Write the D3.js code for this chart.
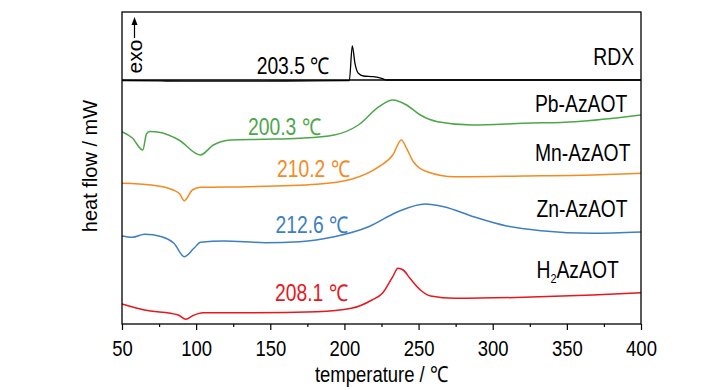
<!DOCTYPE html>
<html>
<head>
<meta charset="utf-8">
<script src="https://cdn.jsdelivr.net/npm/d3@7/dist/d3.min.js"></script>
<style>
  html, body { margin: 0; padding: 0; background: #fff; }
  svg { display: block; }
  text { font-family: 'Liberation Sans', Arial, sans-serif; }
</style>
</head>
<body>
<svg id="chart" width="728" height="390"></svg>
<script>
// ---------- data (temperature in °C, heat flow in arbitrary units, curves stacked) ----------
const majorTicks = [50, 100, 150, 200, 250, 300, 350, 400];
const minorTicks = [75, 125, 175, 225, 275, 325, 375];

const rdxT  = [50, 80, 120, 160, 200, 203.3, 205.3, 207.1, 209.4, 212.8, 219.5, 225.1, 228.5, 260, 320, 400];
const rdxHF = [24.35, 24.3, 24.28, 24.3, 24.33, 24.35, 27.8, 26.07, 25.07, 24.8, 24.73, 24.57, 24.4, 24.4, 24.4, 24.4];

const pbT  = [50, 57, 64, 66.5, 68.5, 76.8, 88.4, 102.8, 111.6, 123.3, 146.6, 169.8, 193.1, 209.4, 223.3, 232.6, 241.9, 251.2, 262.8, 286.1, 321, 355.8, 400];
const pbHF = [19.23, 18.6, 17.4, 19.0, 19.25, 19.13, 18.4, 16.9, 17.9, 18.4, 18.47, 18.57, 18.9, 19.9, 21.73, 22.4, 21.9, 20.9, 20.23, 19.9, 20.07, 20.23, 20.9];

const mnT  = [50, 69.8, 84.5, 89, 92, 97.5, 103, 134.9, 181.4, 204.7, 223.3, 232.6, 238.4, 241.9, 246.5, 255.8, 274.4, 321, 367.5, 400];
const mnHF = [14.07, 13.9, 13.4, 13.0, 12.33, 13.4, 13.67, 13.73, 13.97, 14.47, 15.73, 16.9, 18.4, 17.57, 16.23, 15.23, 14.73, 14.8, 14.9, 15.07];

const znT  = [50, 57, 65.2, 76.8, 85, 92, 98.5, 103, 118.7, 146.6, 169.8, 193.1, 216.3, 236, 254.5, 267, 287, 309.4, 332.6, 367.5, 400];
const znHF = [8.8, 8.67, 8.97, 8.73, 8.07, 6.73, 7.57, 8.17, 8.3, 8.13, 8.23, 8.73, 9.73, 11.23, 12.0, 11.73, 10.73, 9.8, 9.33, 9.07, 9.2];

const h2T  = [50, 65.2, 88, 93, 98, 104.5, 134.9, 181.4, 204.7, 218.6, 225.6, 232.6, 236.1, 239.6, 244.2, 251.2, 258.2, 274.4, 321, 367.5, 400];
const h2HF = [2.0, 1.4, 0.9, 0.47, 0.85, 1.13, 1.13, 1.23, 1.57, 2.4, 3.07, 4.73, 5.57, 5.4, 4.57, 3.4, 2.8, 2.57, 2.67, 2.9, 3.13];

const seriesNames  = ["RDX", "Pb-AzAOT", "Mn-AzAOT", "Zn-AzAOT", "H2AzAOT"];
const peakLabels   = ["203.5 ℃", "200.3 ℃", "210.2 ℃", "212.6 ℃", "208.1 ℃"];
// label anchor points in data units (temperature, heat flow)
const nameLabelT   = [367.8, 328.5, 328.5, 329.5, 329.5];
const nameLabelHF  = [25.9, 21.23, 16.3, 10.73, 4.57];
const peakLabelT   = [140.8, 135, 154.5, 153.5, 153.2];
const peakLabelHF  = [25.0, 18.9, 14.67, 9.13, 2.3];

const colors = ["#000000", "#4da64a", "#f58a1f", "#3e7fc1", "#e8161d"];

// ---------- layout ----------
const svg = d3.select("#chart");
const plotL = 122, plotR = 641, plotT = 12, plotB = 324, dividerY = 80;
const SQ = 0.84; // horizontal squeeze of text seen in the reference

const x = d3.scaleLinear().domain([50, 400]).range([plotL, plotR]);
const y = d3.scaleLinear().domain([0, 31.2]).range([plotB, plotT]);

const seriesT  = [rdxT, pbT, mnT, znT, h2T];
const seriesHF = [rdxHF, pbHF, mnHF, znHF, h2HF];

const line = d3.line()
  .x(d => x(d[0]))
  .y(d => y(d[1]))
  .curve(d3.curveMonotoneX);

// curves
seriesT.forEach((ts, i) => {
  const pts = ts.map((t, k) => [t, seriesHF[i][k]]);
  svg.append("path")
    .attr("d", line(pts))
    .attr("fill", "none")
    .attr("stroke", colors[i])
    .attr("stroke-width", i === 0 ? 1.3 : 1.5)
    .attr("stroke-linejoin", "round");
});

// frame and divider
svg.append("rect")
  .attr("x", plotL).attr("y", plotT)
  .attr("width", plotR - plotL).attr("height", plotB - plotT)
  .attr("fill", "none").attr("stroke", "#000").attr("stroke-width", 1.3);
svg.append("line")
  .attr("x1", plotL).attr("x2", plotR)
  .attr("y1", dividerY).attr("y2", dividerY)
  .attr("stroke", "#000").attr("stroke-width", 1.3);

// bottom axis
const gMinor = svg.append("g").attr("transform", `translate(0,${plotB})`)
  .call(d3.axisBottom(x).tickValues(minorTicks).tickSize(3).tickSizeOuter(0).tickFormat(""));
gMinor.select(".domain").remove();
gMinor.selectAll("line").attr("stroke", "#000").attr("stroke-width", 1.2);

const gMajor = svg.append("g").attr("transform", `translate(0,${plotB})`)
  .call(d3.axisBottom(x).tickValues(majorTicks).tickSize(6).tickSizeOuter(0).tickPadding(10).tickFormat(d3.format("d")));
gMajor.select(".domain").remove();
gMajor.selectAll("line").attr("stroke", "#000").attr("stroke-width", 1.2);
gMajor.selectAll("text")
  .attr("fill", "#000")
  .style("font-size", "22px")
  .style("font-family", "'Liberation Sans', Arial, sans-serif")
  .attr("transform", `scale(${SQ},1)`);

// axis titles
svg.append("text")
  .attr("transform", `translate(${(plotL + plotR) / 2},382) scale(${SQ},1)`)
  .attr("text-anchor", "middle")
  .style("font-size", "22px")
  .text("temperature / ℃");

svg.append("text")
  .attr("transform", `translate(97,166) rotate(-90)`)
  .attr("text-anchor", "middle")
  .style("font-size", "20px")
  .text("heat flow / mW");

// exo arrow
svg.append("text")
  .attr("transform", `translate(142,56.5) rotate(-90)`)
  .attr("text-anchor", "middle")
  .style("font-size", "21px")
  .text("exo");
svg.append("line")
  .attr("x1", 134.5).attr("x2", 134.5)
  .attr("y1", 38).attr("y2", 22)
  .attr("stroke", "#000").attr("stroke-width", 1.2);
svg.append("path")
  .attr("d", "M134.5,17 L131.5,25 L137.5,25 Z")
  .attr("fill", "#000");

// series names
seriesNames.forEach((name, i) => {
  const t = svg.append("text")
    .attr("transform", `translate(${x(nameLabelT[i])},${y(nameLabelHF[i])}) scale(${SQ},1)`)
    .attr("text-anchor", "start")
    .style("font-size", "23px")
    .attr("fill", "#000");
  if (name === "H2AzAOT") {
    t.append("tspan").text("H");
    t.append("tspan").text("2").style("font-size", "13px").attr("dy", 5);
    t.append("tspan").text("AzAOT").attr("dy", -5);
  } else {
    t.text(name);
  }
});

// peak temperature labels
peakLabels.forEach((lab, i) => {
  svg.append("text")
    .attr("transform", `translate(${x(peakLabelT[i])},${y(peakLabelHF[i])}) scale(${SQ},1)`)
    .attr("text-anchor", "start")
    .style("font-size", "23px")
    .attr("fill", colors[i])
    .text(lab);
});
</script>
</body>
</html>
